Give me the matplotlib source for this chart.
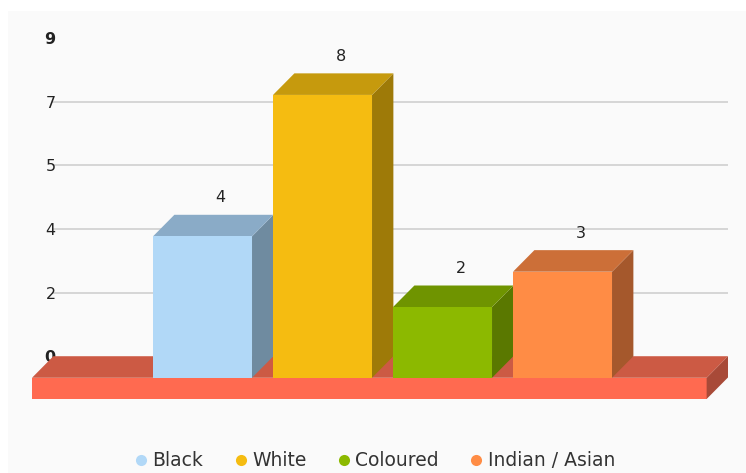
import matplotlib
matplotlib.use("Agg")
from matplotlib import pyplot as plt
from matplotlib.patches import Polygon, Rectangle
from matplotlib.lines import Line2D

groups = ["Black", "White", "Coloured", "Indian / Asian"]
counts = [4, 8, 2, 3]
tick_vals = [0, 1.8, 3.6, 5.4, 7.2, 9]
tick_labels = ["0", "2", "4", "5", "7", "9"]

front = ["#b1d8f7", "#f5bc11", "#8cb900", "#ff8c45"]
top = ["#8aabc7", "#c69a0d", "#6f9400", "#cc6f38"]
side = ["#6f8ba0", "#9e7a08", "#5a7800", "#a5582c"]

W = 0.825      # bar width
DX = 0.178     # depth in x units
DY = 0.61      # depth in y units
FLOOR = 0.6    # floor thickness
x_lo, x_hi = -1.421, 4.379

fig = plt.figure(figsize=(7.46, 4.73), dpi=100)
fig.patch.set_facecolor("white")
fig.patches.append(Rectangle((8 / 746, 0), 1, 462 / 473, transform=fig.transFigure,
                             facecolor="#fafafa", edgecolor="none", zorder=-5))

ax = fig.add_axes([32 / 746, 74 / 473, 696 / 746, 361 / 473])
ax.set_facecolor("none")
ax.set_xlim(x_lo, x_hi)
ax.set_ylim(-FLOOR, 9 + DY)
for s in ax.spines.values():
    s.set_visible(False)
ax.set_xticks([])

# gridlines on the back wall
for t in tick_vals[1:-1]:
    ax.plot([x_lo + DX, x_hi], [t + DY, t + DY], color="#d6d6d6", lw=1.4, zorder=1)

ax.set_yticks([t + DY for t in tick_vals])
ax.set_yticklabels(tick_labels, fontsize=11.5, color="#222222")
ax.tick_params(axis="y", length=0, pad=-17)
for lab in ax.get_yticklabels():
    lab.set_horizontalalignment("right")
ax.get_yticklabels()[0].set_fontweight("bold")
ax.get_yticklabels()[-1].set_fontweight("bold")

# floor
fx0, fx1 = x_lo, x_hi - DX
ax.add_patch(Polygon([(fx0, 0), (fx1, 0), (fx1 + DX, DY), (fx0 + DX, DY)],
                     facecolor="#cc5a44", edgecolor="none", zorder=2))
ax.add_patch(Polygon([(fx0, -FLOOR), (fx1, -FLOOR), (fx1, 0), (fx0, 0)],
                     facecolor="#ff6a50", edgecolor="none", zorder=2))
ax.add_patch(Polygon([(fx1, -FLOOR), (fx1 + DX, -FLOOR + DY), (fx1 + DX, DY), (fx1, 0)],
                     facecolor="#a84a38", edgecolor="none", zorder=2))

# 3d bars
for i, v in enumerate(counts):
    l, r = i - W / 2, i + W / 2
    ax.add_patch(Polygon([(r, 0), (r + DX, DY), (r + DX, v + DY), (r, v)],
                         facecolor=side[i], edgecolor="none", zorder=3))
    ax.add_patch(Polygon([(l, v), (r, v), (r + DX, v + DY), (l + DX, v + DY)],
                         facecolor=top[i], edgecolor="none", zorder=3))
    ax.add_patch(Rectangle((l, 0), W, v, facecolor=front[i], edgecolor="none", zorder=4))
    ax.text(i + DX * 0.85, v + DY + 0.48, str(v), ha="center", va="center",
            fontsize=11.5, color="#222222", zorder=5)

handles = [Line2D([], [], marker="o", ls="none", markersize=8,
                  markerfacecolor=c, markeredgecolor="none") for c in front]
fig.legend(handles, groups, loc="center", bbox_to_anchor=(0.503, 0.026),
           ncol=4, frameon=False, fontsize=13.5, handlelength=0.6,
           handletextpad=0.3, columnspacing=1.7, labelcolor="#333333")

fig.savefig("out.png", dpi=100)
